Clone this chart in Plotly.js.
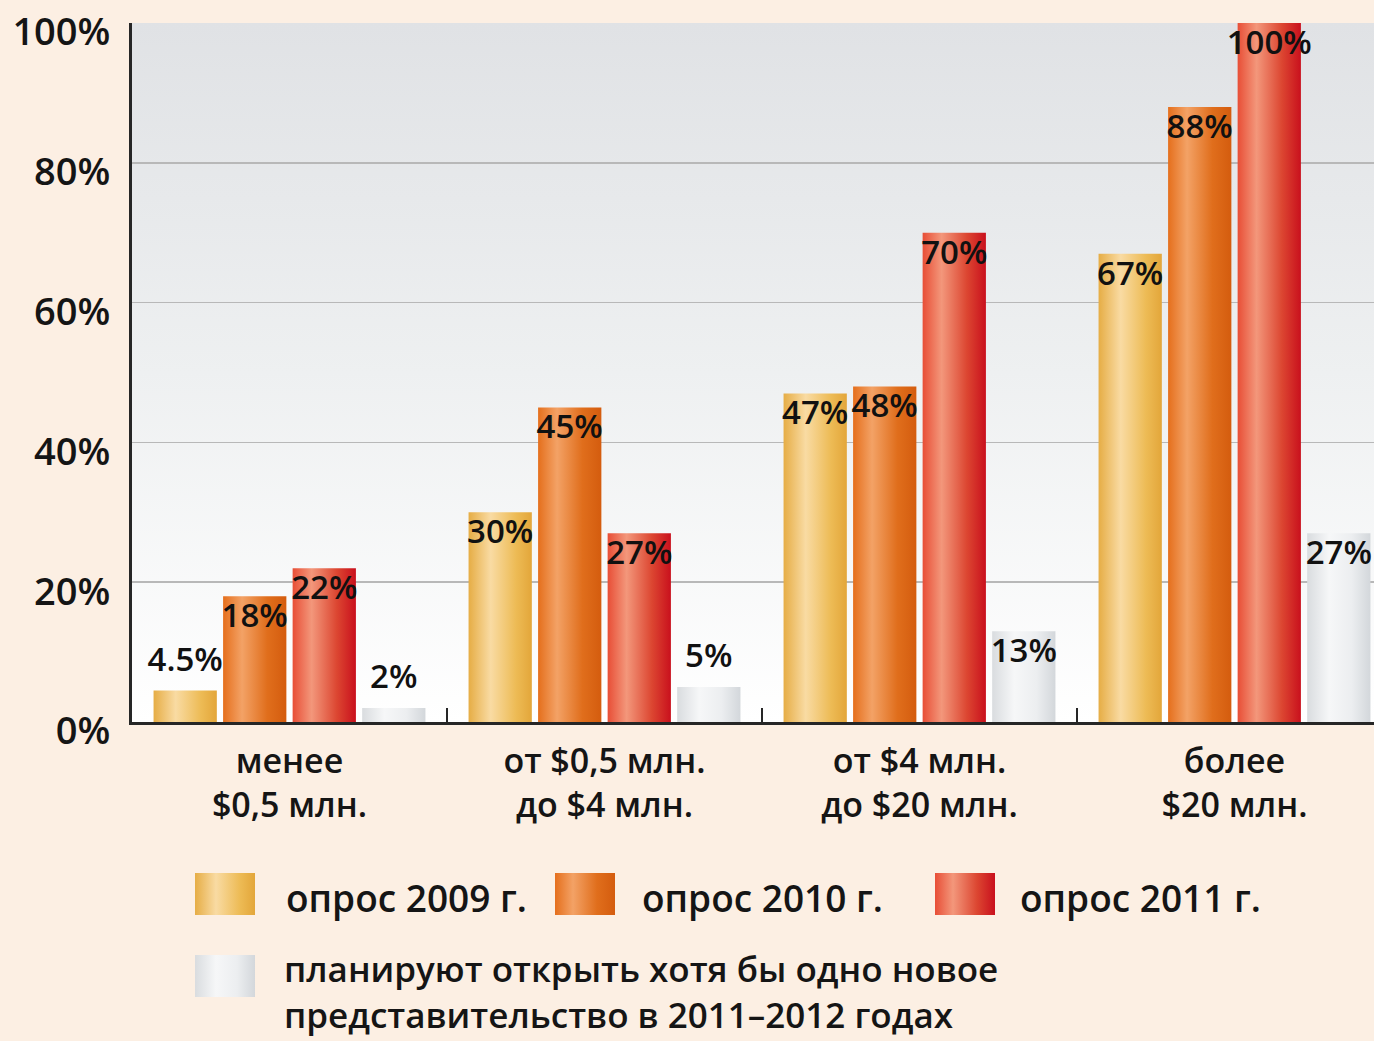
<!DOCTYPE html>
<html>
<head>
<meta charset="utf-8">
<script src="https://cdn.plot.ly/plotly-3.0.1.min.js"></script>
<style>
html,body{margin:0;padding:0;background:#fcefe3;}
#chart{width:1374px;height:1041px;}
</style>
</head>
<body>
<div id="chart"></div>
<script>
// ---- data ----
const categories = ['менее<br>$0,5 млн.', 'от $0,5 млн.<br>до $4 млн.', 'от $4 млн.<br>до $20 млн.', 'более<br>$20 млн.'];
const survey2009 = [4.5, 30, 47, 67];
const survey2010 = [18, 45, 48, 88];
const survey2011 = [22, 27, 70, 100];
const planNew = [2, 5, 13, 27];
const seriesNames = ['опрос 2009 г.', 'опрос 2010 г.', 'опрос 2011 г.', 'планируют открыть хотя бы одно новое<br>представительство в 2011–2012 годах'];
const yTickVals = [0, 20, 40, 60, 80, 100];
const yTickText = ['0%', '20%', '40%', '60%', '80%', '100%'];

// ---- styles ----
const FONT = 'Open Sans, Noto Sans, sans-serif';
const W = 600;
const gradients = [
  [[0,'#e6ad45'],[0.35,'#f9dba3'],[0.75,'#edbb55'],[1,'#e3a63a']],
  [[0,'#e56f1c'],[0.3,'#f3a266'],[0.7,'#e06e1c'],[1,'#d45c0e']],
  [[0,'#e84e36'],[0.3,'#f3977b'],[0.7,'#dc4631'],[1,'#c9101d']],
  [[0,'#d9dcdf'],[0.35,'#f6f7f8'],[0.7,'#eceef0'],[1,'#d3d7db']]
];
const solid = ['#efc16a', '#e8813a', '#e2553e', '#e6e8ea'];
const allSeries = [survey2009, survey2010, survey2011, planNew];

const labelFont = {family: FONT, size: 33, color: '#111', weight: W};
const traces = allSeries.map(function(vals, i){
  return {
    type: 'bar',
    name: seriesNames[i],
    x: categories,
    y: vals,
    marker: {color: solid[i], line: {width: 0}},
    text: vals.map(function(v){ return v + '%'; }),
    textposition: vals.map(function(v){ return v < 10 ? 'outside' : 'inside'; }),
    insidetextanchor: 'end',
    constraintext: 'none',
    textangle: 0,
    textfont: labelFont,
    insidetextfont: labelFont,
    outsidetextfont: labelFont,
    cliponaxis: false,
    hoverinfo: 'none',
    showlegend: false
  };
});

// pixel helpers for legend decorations (plot area: x 132..1374, y 23..722)
const L = 132, R = 1374, T = 23, B = 722;
function px(x){ return (x - L) / (R - L); }
function py(y){ return (B - y) / (B - T); }

function swatchURI(stops){
  let s = '<svg xmlns="http://www.w3.org/2000/svg" width="60" height="42" viewBox="0 0 60 42"><defs><linearGradient id="g" x1="0" x2="1" y1="0" y2="0">';
  stops.forEach(function(st){ s += '<stop offset="' + st[0] + '" stop-color="' + st[1] + '"/>'; });
  s += '</linearGradient></defs><rect width="60" height="42" fill="url(#g)"/></svg>';
  return 'data:image/svg+xml;charset=utf-8,' + encodeURIComponent(s);
}

const swatchPos = [[195, 873], [555, 873], [935, 873], [195, 955]];
const images = swatchPos.map(function(p, i){
  return {source: swatchURI(gradients[i]), xref: 'paper', yref: 'paper',
    x: px(p[0]), y: py(p[1]), sizex: 60 / (R - L), sizey: 42 / (B - T),
    xanchor: 'left', yanchor: 'top', sizing: 'stretch', layer: 'above'};
});
// legend text: [series index, x, y, size]
const textPos = [[0, 284, 897, 37], [1, 640, 897, 37], [2, 1018, 897, 37], [3, 282, 991, 35]];
const annotations = textPos.map(function(t){
  return {text: seriesNames[t[0]], xref: 'paper', yref: 'paper', x: px(t[1]), y: py(t[2]),
    xanchor: 'left', yanchor: 'middle', align: 'left', showarrow: false,
    font: {family: FONT, size: t[3], color: '#151515', weight: W}};
});

const layout = {
  width: 1374, height: 1041,
  paper_bgcolor: '#fcefe3',
  plot_bgcolor: '#eceef0',
  margin: {l: L, r: 0, t: T, b: 1041 - B, pad: 0},
  barmode: 'group',
  bargap: 0.117,
  bargroupgap: 0.09,
  showlegend: false,
  font: {family: FONT, color: '#151515'},
  xaxis: {
    type: 'category',
    range: [-0.5, -0.5 + (R - L) / 315],
    showline: true, linecolor: '#262626', linewidth: 3,
    ticks: 'inside', tickson: 'boundaries', ticklen: 14, tickwidth: 2, tickcolor: '#262626',
    tickfont: {family: FONT, size: 34, color: '#151515', weight: W},
    ticklabelstandoff: 7,
    showgrid: false, zeroline: false
  },
  yaxis: {
    range: [0, 100],
    tickmode: 'array',
    tickvals: yTickVals,
    ticktext: yTickText,
    ticks: '',
    showline: true, linecolor: '#262626', linewidth: 3,
    showgrid: true, gridcolor: '#b8b8b8', gridwidth: 1.5,
    zeroline: false,
    tickfont: {family: FONT, size: 38, color: '#151515', weight: W},
    ticklabelshift: 9,
    ticklabelstandoff: 11
  },
  images: images,
  annotations: annotations
};

const gd = document.getElementById('chart');
Plotly.newPlot(gd, traces, layout, {staticPlot: true, displayModeBar: false}).then(function(){
  const svg = gd.querySelector('.main-svg');
  const NS = 'http://www.w3.org/2000/svg';
  let defs = svg.querySelector('defs');
  if (!defs) { defs = document.createElementNS(NS, 'defs'); svg.insertBefore(defs, svg.firstChild); }
  function addGrad(id, stops, vertical){
    const g = document.createElementNS(NS, 'linearGradient');
    g.setAttribute('id', id);
    g.setAttribute('x1', '0'); g.setAttribute('y1', '0');
    g.setAttribute('x2', vertical ? '0' : '1'); g.setAttribute('y2', vertical ? '1' : '0');
    stops.forEach(function(st){
      const s = document.createElementNS(NS, 'stop');
      s.setAttribute('offset', st[0]); s.setAttribute('stop-color', st[1]);
      g.appendChild(s);
    });
    defs.appendChild(g);
  }
  gradients.forEach(function(st, i){ addGrad('barGrad' + i, st, false); });
  addGrad('bgGrad', [[0,'#e0e2e5'],[0.5,'#eef0f1'],[1,'#ffffff']], true);
  const traceGroups = gd.querySelectorAll('.barlayer .trace.bars');
  traceGroups.forEach(function(tg, i){
    tg.querySelectorAll('.point path').forEach(function(p){ p.style.fill = 'url(#barGrad' + i + ')'; });
    tg.querySelectorAll('text.bartext').forEach(function(t){
      t.setAttribute('transform', (t.getAttribute('transform') || '') + ' translate(0,-7)');
    });
  });
  const bg = gd.querySelector('.bglayer rect.bg');
  if (bg) bg.style.fill = 'url(#bgGrad)';
});
</script>
</body>
</html>
